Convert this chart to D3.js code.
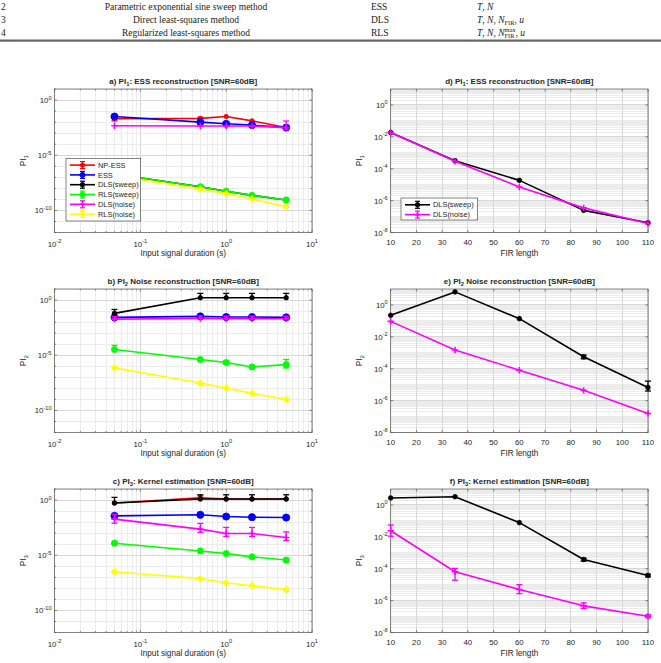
<!DOCTYPE html>
<html><head><meta charset="utf-8">
<script src="https://cdn.jsdelivr.net/npm/d3@7"></script>
<style>body{margin:0;background:#fff}svg{display:block}text{white-space:pre}</style>
</head><body>
<svg id="c" width="661" height="663"></svg>
<script>
// ---------------- DATA ----------------
const tableNums = ["2", "3", "4"];
const tableMethods = ["Parametric exponential sine sweep method", "Direct least-squares method", "Regularized least-squares method"];
const tableAbbr = ["ESS", "DLS", "RLS"];

const durations = [0.05, 0.5, 1, 2, 5];
const firLengths = [10, 35, 60, 85, 110];

const seriesNames = ["NP-ESS", "ESS", "DLS(sweep)", "RLS(sweep)", "DLS(noise)", "RLS(noise)"];
const seriesColors = ["#ff0000", "#0000ff", "#000000", "#00ff00", "#ff00ff", "#ffff00"];
const seriesMarkers = ["o", "o", "o", "o", "+", "d"];

const xTicksLog = [0.01, 0.1, 1, 10];
const yTicksLeft = [1e-10, 1e-5, 1];
const xTicksLin = [10, 20, 30, 40, 50, 60, 70, 80, 90, 100, 110];
const yTicksRight = [1e-8, 1e-6, 1e-4, 1e-2, 1];

// a) PI1 vs duration
const npEss_a = [0.020, 0.022, 0.032, 0.013, 0.0032];
const npEss_a_up = [0.030, 0.028, null, null, null];
const npEss_a_dn = [0.013, 0.017, null, null, null];
const ess_a = [0.032, 0.010, 0.0071, 0.0054, 0.0032];
const dlsSweep_a = [2.0e-7, 1.4e-8, 5.4e-9, 2.3e-9, 8.9e-10];
const rlsSweep_a = [2.0e-7, 1.4e-8, 5.4e-9, 2.3e-9, 8.9e-10];
const dlsNoise_a = [4.7e-3, 4.4e-3, 4.4e-3, 4.4e-3, 3.2e-3];
const dlsNoise_a_up = [null, null, null, null, 0.0126];
const dlsNoise_a_dn = [null, null, null, null, 0.0022];
const rlsNoise_a = [1.4e-7, 8.9e-9, 3.3e-9, 1.1e-9, 2.2e-10];

// b) PI2 vs duration
const dlsSweep_b = [0.062, 1.62, 1.62, 1.62, 1.62];
const dlsSweep_b_up = [0.14, 4.0, 4.0, 4.0, 4.0];
const ess_b = [0.027, 0.033, 0.029, 0.029, 0.027];
const dlsNoise_b = [0.0186, 0.0214, 0.020, 0.020, 0.020];
const dlsNoise_b_up = [0.032, 0.036, 0.034, 0.034, 0.034];
const rlsSweep_b = [3.3e-5, 4.1e-6, 2.2e-6, 8.7e-7, 1.4e-6];
const rlsSweep_b_up = [7.9e-5, 5.5e-6, 3.0e-6, null, 4.1e-6];
const rlsSweep_b_dn = [null, 3.2e-6, 1.6e-6, null, 7e-7];
const rlsNoise_b = [7.1e-7, 3.0e-8, 1.07e-8, 3.5e-9, 1.0e-9];

// c) PI3 vs duration
const npEss_c = [0.54, 1.58, 1.23, 1.23, 1.23];
const npEss_c_up = [null, 2.4, null, null, null];
const dlsSweep_c = [0.54, 1.23, 1.23, 1.23, 1.23];
const dlsSweep_c_up = [1.74, 3.0, 3.0, 3.0, 3.0];
const ess_c = [0.037, 0.046, 0.032, 0.028, 0.026];
const dlsNoise_c = [0.0186, 0.0023, 9.3e-4, 9.3e-4, 4.0e-4];
const dlsNoise_c_up = [0.052, 0.0076, 0.0033, 0.0033, 0.0013];
const dlsNoise_c_dn = [0.008, 0.0012, 5e-4, 5e-4, 2.2e-4];
const rlsSweep_c = [1.23e-4, 2.45e-5, 1.41e-5, 7.1e-6, 3.7e-6];
const rlsSweep_c_up = [null, null, null, null, 5.2e-6];
const rlsSweep_c_dn = [null, null, null, null, 2.6e-6];
const rlsNoise_c = [3.2e-7, 7.6e-8, 3.2e-8, 1.74e-8, 7.6e-9];

// d) PI1 vs FIR length
const dlsSweep_d = [0.0186, 3.2e-4, 1.86e-5, 2.45e-7, 4.1e-8];
const dlsNoise_d = [0.0186, 2.9e-4, 7.2e-6, 3.5e-7, 3.7e-8];

// e) PI2 vs FIR length
const dlsSweep_e = [0.224, 6.6, 0.138, 5.6e-4, 6.6e-6];
const dlsSweep_e_up = [null, null, null, 7.2e-4, 1.66e-5];
const dlsSweep_e_dn = [null, null, null, 4.2e-4, 4e-6];
const dlsNoise_e = [0.093, 1.48e-3, 8.1e-5, 4.4e-6, 1.55e-7];

// f) PI3 vs FIR length
const dlsSweep_f = [2.75, 3.3, 0.078, 3.8e-4, 3.8e-5];
const dlsSweep_f_up = [null, null, null, 4.6e-4, 4.5e-5];
const dlsSweep_f_dn = [null, null, null, 3.0e-4, 3.1e-5];
const dlsNoise_f = [0.024, 6.5e-5, 5.0e-6, 4.7e-7, 1.05e-7];
const dlsNoise_f_up = [0.055, 1.05e-4, 1.0e-5, 7.2e-7, 1.3e-7];
const dlsNoise_f_dn = [0.011, 1.9e-5, 2.7e-6, 3.2e-7, 0.85e-7];

// ---------------- DRAW ----------------
const svg = d3.select('#c');
const SANS = "'Liberation Sans', Arial, Helvetica, sans-serif";
const SERIF = "'Liberation Serif', 'Times New Roman', serif";
const TXT = "#262626";

// ---- table fragment ----
function richText(g, x, y, pieces, fs) {
  let cx = x, lastStart = x, lastW = 0;
  pieces.forEach(p => {
    const size = p.small ? fs * 0.68 : fs;
    const el = g.append('text')
      .attr('x', p.stack ? lastStart : cx)
      .attr('y', y + (p.dy || 0))
      .attr('xml:space', 'preserve')
      .style('font-family', SERIF).style('font-size', size + 'px')
      .style('font-style', p.i ? 'italic' : 'normal')
      .attr('fill', '#222').text(p.t);
    const w = el.node().getComputedTextLength();
    if (p.stack) { cx = lastStart + Math.max(lastW, w); }
    else { lastStart = cx; lastW = w; cx += w; }
  });
}
const tableParams = [
  [{t:"T",i:1},{t:", "},{t:"N",i:1}],
  [{t:"T",i:1},{t:", "},{t:"N",i:1},{t:", "},{t:"N",i:1},{t:"FIR",small:1,dy:2.5},{t:", "},{t:"u",i:1}],
  [{t:"T",i:1},{t:", "},{t:"N",i:1},{t:", "},{t:"N",i:1},{t:"FIR",small:1,dy:2.5},{t:"max",small:1,dy:-4,stack:1},{t:", "},{t:"u",i:1}]
];
const tg = svg.append('g');
const rowY = [9.5, 22.5, 35.5];
tableNums.forEach((n, i) => {
  tg.append('text').attr('x', 1).attr('y', rowY[i]).style('font-family', SERIF).style('font-size', '9.5px').attr('fill', '#222').text(n);
  tg.append('text').attr('x', 186).attr('y', rowY[i]).attr('text-anchor', 'middle').style('font-family', SERIF).style('font-size', '9.5px').attr('fill', '#222').text(tableMethods[i]);
  tg.append('text').attr('x', 371).attr('y', rowY[i]).style('font-family', SERIF).style('font-size', '9.5px').attr('fill', '#222').text(tableAbbr[i]);
  richText(tg, 477, rowY[i], tableParams[i], 9.5);
});
tg.append('rect').attr('x', 0).attr('y', 39.5).attr('width', 661).attr('height', 2.2).attr('fill', '#666');

// ---- helpers ----
function supText(sel, base, exp, fs) {
  sel.append('tspan').text(base);
  sel.append('tspan').attr('dy', -fs * 0.45).style('font-size', (fs * 0.72) + 'px').text(exp);
}
function subText(sel, base, sub, rest, fs) {
  sel.append('tspan').text(base);
  sel.append('tspan').attr('dy', fs * 0.3).style('font-size', (fs * 0.72) + 'px').text(sub);
  if (rest) sel.append('tspan').attr('dy', -fs * 0.3).text(rest);
}
function marker(g, type, cx, cy, r, color) {
  if (type === 'o') {
    g.append('circle').attr('cx', cx).attr('cy', cy).attr('r', r).attr('fill', color).attr('stroke', color).attr('stroke-width', 0.8);
  } else if (type === '+') {
    g.append('path').attr('d', `M${cx - r},${cy}H${cx + r}M${cx},${cy - r}V${cy + r}`).attr('stroke', color).attr('stroke-width', 1.6).attr('fill', 'none');
  } else if (type === 'd') {
    g.append('path').attr('d', `M${cx},${cy - r}L${cx + r},${cy}L${cx},${cy + r}L${cx - r},${cy}Z`).attr('fill', color).attr('stroke', color).attr('stroke-width', 0.8);
  }
}
const markerSizes = [2.2, 3.6, 2.3, 3.1, 3.2, 3.4];

const colX = [[54.5, 312], [390.7, 648]];
const rowTop = [89, 289, 489];
const PH = 143.5;

function drawPanel(p) {
  const [x0, x1] = colX[p.col];
  const y0 = rowTop[p.row], y1 = y0 + PH;
  const g = svg.append('g');
  const left = p.col === 0;
  const x = left ? d3.scaleLog().domain([0.01, 10]).range([x0, x1])
                 : d3.scaleLinear().domain([10, 110]).range([x0, x1]);
  const y = left ? d3.scaleLog().domain([1e-12, 10]).range([y1, y0])
                 : d3.scaleLog().domain([1e-8, 10]).range([y1, y0]);
  g.append('rect').attr('x', x0).attr('y', y0).attr('width', x1 - x0).attr('height', PH).attr('fill', '#fff');

  const xMinor = [], yMinor = [];
  if (left) {
    for (let e = -2; e < 1; e++) for (let k = 2; k <= 9; k++) xMinor.push(k * Math.pow(10, e));
    for (let e = -12; e <= 1; e++) if (!yTicksLeft.includes(Math.pow(10, e))) yMinor.push(Math.pow(10, e));
  } else {
    for (let e = -8; e < 1; e++) for (let k = 1; k <= 9; k++) {
      const v = k * Math.pow(10, e);
      if (k === 1 && yTicksRight.some(t => Math.abs(t - v) / v < 1e-6)) continue;
      yMinor.push(v);
    }
  }
  const xMajor = left ? xTicksLog : xTicksLin;
  const yMajor = left ? yTicksLeft : yTicksRight;
  const grid = g.append('g').attr('shape-rendering', 'crispEdges');
  xMinor.forEach(v => grid.append('line').attr('x1', x(v)).attr('x2', x(v)).attr('y1', y0).attr('y2', y1).attr('stroke', '#ececec').attr('stroke-width', 1));
  yMinor.forEach(v => grid.append('line').attr('y1', y(v)).attr('y2', y(v)).attr('x1', x0).attr('x2', x1).attr('stroke', '#ececec').attr('stroke-width', 1));
  xMajor.forEach(v => grid.append('line').attr('x1', x(v)).attr('x2', x(v)).attr('y1', y0).attr('y2', y1).attr('stroke', '#d8d8d8').attr('stroke-width', 1));
  yMajor.forEach(v => grid.append('line').attr('y1', y(v)).attr('y2', y(v)).attr('x1', x0).attr('x2', x1).attr('stroke', '#d8d8d8').attr('stroke-width', 1));

  const tk = g.append('g').attr('stroke', '#444').attr('stroke-width', 0.6);
  xMajor.forEach(v => { tk.append('line').attr('x1', x(v)).attr('x2', x(v)).attr('y1', y1).attr('y2', y1 - 2.6); tk.append('line').attr('x1', x(v)).attr('x2', x(v)).attr('y1', y0).attr('y2', y0 + 2.6); });
  yMajor.forEach(v => { tk.append('line').attr('y1', y(v)).attr('y2', y(v)).attr('x1', x0).attr('x2', x0 + 2.6); tk.append('line').attr('y1', y(v)).attr('y2', y(v)).attr('x1', x1).attr('x2', x1 - 2.6); });
  xMinor.forEach(v => { tk.append('line').attr('x1', x(v)).attr('x2', x(v)).attr('y1', y1).attr('y2', y1 - 1.5); tk.append('line').attr('x1', x(v)).attr('x2', x(v)).attr('y1', y0).attr('y2', y0 + 1.5); });
  (left ? yMinor : []).forEach(v => { tk.append('line').attr('y1', y(v)).attr('y2', y(v)).attr('x1', x0).attr('x2', x0 + 1.5); tk.append('line').attr('y1', y(v)).attr('y2', y(v)).attr('x1', x1).attr('x2', x1 - 1.5); });

  g.append('rect').attr('x', x0).attr('y', y0).attr('width', x1 - x0).attr('height', PH).attr('fill', 'none').attr('stroke', '#555').attr('stroke-width', 0.7);

  const fs = 7.8;
  if (left) {
    xMajor.forEach(v => {
      const t = g.append('text').attr('x', x(v)).attr('y', y1 + 14).attr('text-anchor', 'middle').style('font-family', SANS).style('font-size', fs + 'px').attr('fill', TXT);
      supText(t, '10', String(Math.round(Math.log10(v))), fs);
    });
  } else {
    xMajor.forEach(v => g.append('text').attr('x', x(v)).attr('y', y1 + 12.5).attr('text-anchor', 'middle').style('font-family', SANS).style('font-size', fs + 'px').attr('fill', TXT).text(v));
  }
  yMajor.forEach(v => {
    const t = g.append('text').attr('x', x0 - 3).attr('y', y(v) + 3).attr('text-anchor', 'end').style('font-family', SANS).style('font-size', fs + 'px').attr('fill', TXT);
    supText(t, '10', String(Math.round(Math.log10(v))), fs);
  });

  g.append('text').attr('x', (x0 + x1) / 2).attr('y', y1 + 23.5).attr('text-anchor', 'middle').style('font-family', SANS).style('font-size', '8.2px').attr('fill', TXT).text(left ? 'Input signal duration (s)' : 'FIR length');
  const yl = g.append('text').attr('transform', `translate(${x0 - 29},${(y0 + y1) / 2}) rotate(-90)`).attr('text-anchor', 'middle').style('font-family', SANS).style('font-size', '8.2px').attr('fill', TXT);
  subText(yl, 'PI', p.ysub, null, 8.2);

  const tt = g.append('text').attr('x', (x0 + x1) / 2).attr('y', y0 - 5.5).attr('text-anchor', 'middle').style('font-family', SANS).style('font-size', '8px').style('font-weight', 'bold').attr('fill', TXT);
  subText(tt, p.title[0], p.title[1], p.title[2], 8);

  const xs = left ? durations : firLengths;
  const sg = g.append('g');
  p.series.forEach(s => {
    const col = seriesColors[s.k];
    const pts = xs.map((xv, i) => ({x: xv, y: s.y[i], up: s.up ? s.up[i] : null, dn: s.dn ? s.dn[i] : null}));
    sg.append('path').datum(pts).attr('d', d3.line().x(d => x(d.x)).y(d => y(d.y))).attr('fill', 'none').attr('stroke', col).attr('stroke-width', 1.6).attr('stroke-linejoin', 'round');
    pts.forEach(d => {
      const cx = x(d.x);
      const yt = d.up != null ? y(d.up) : y(d.y), yb = d.dn != null ? y(d.dn) : y(d.y);
      if (d.up != null || d.dn != null) {
        sg.append('line').attr('x1', cx).attr('x2', cx).attr('y1', yt).attr('y2', yb).attr('stroke', col).attr('stroke-width', 1.3);
        if (d.up != null) sg.append('line').attr('x1', cx - 3).attr('x2', cx + 3).attr('y1', yt).attr('y2', yt).attr('stroke', col).attr('stroke-width', 1.3);
        if (d.dn != null) sg.append('line').attr('x1', cx - 3).attr('x2', cx + 3).attr('y1', yb).attr('y2', yb).attr('stroke', col).attr('stroke-width', 1.3);
      }
      marker(sg, seriesMarkers[s.k], cx, y(d.y), markerSizes[s.k], col);
    });
  });

  if (p.legend) {
    const L = p.legend;
    const lg = g.append('g');
    lg.append('rect').attr('x', L.x).attr('y', L.y).attr('width', L.w).attr('height', L.h).attr('fill', '#fff').attr('stroke', '#333').attr('stroke-width', 0.6);
    L.keys.forEach((k, i) => {
      const ly = L.y + 6.8 + i * 9.8;
      const col = seriesColors[k];
      lg.append('line').attr('x1', L.x + 4).attr('x2', L.x + 29).attr('y1', ly).attr('y2', ly).attr('stroke', col).attr('stroke-width', 1.6);
      const mx = L.x + 16.5;
      lg.append('line').attr('x1', mx).attr('x2', mx).attr('y1', ly - 3.5).attr('y2', ly + 3.5).attr('stroke', col).attr('stroke-width', 1.2);
      lg.append('line').attr('x1', mx - 2.5).attr('x2', mx + 2.5).attr('y1', ly - 3.5).attr('y2', ly - 3.5).attr('stroke', col).attr('stroke-width', 1.2);
      lg.append('line').attr('x1', mx - 2.5).attr('x2', mx + 2.5).attr('y1', ly + 3.5).attr('y2', ly + 3.5).attr('stroke', col).attr('stroke-width', 1.2);
      marker(lg, seriesMarkers[k], mx, ly, Math.min(markerSizes[k], 2.6), col);
      lg.append('text').attr('x', L.x + 32).attr('y', ly + 2.6).style('font-family', SANS).style('font-size', '7.4px').attr('fill', TXT).text(seriesNames[k]);
    });
  }
}

const panels = [
  {col: 0, row: 0, ysub: '1', title: ['a) PI', '1', ': ESS reconstruction [SNR=60dB]'],
   series: [
     {k: 0, y: npEss_a, up: npEss_a_up, dn: npEss_a_dn},
     {k: 1, y: ess_a},
     {k: 2, y: dlsSweep_a},
     {k: 3, y: rlsSweep_a},
     {k: 4, y: dlsNoise_a, up: dlsNoise_a_up, dn: dlsNoise_a_dn},
     {k: 5, y: rlsNoise_a}],
   legend: {x: 66, y: 158.3, w: 74.7, h: 62.7, keys: [0, 1, 2, 3, 4, 5]}},
  {col: 0, row: 1, ysub: '2', title: ['b) PI', '2', ' Noise reconstruction [SNR=60dB]'],
   series: [
     {k: 1, y: ess_b},
     {k: 2, y: dlsSweep_b, up: dlsSweep_b_up},
     {k: 3, y: rlsSweep_b, up: rlsSweep_b_up, dn: rlsSweep_b_dn},
     {k: 4, y: dlsNoise_b, up: dlsNoise_b_up},
     {k: 5, y: rlsNoise_b}]},
  {col: 0, row: 2, ysub: '3', title: ['c) PI', '3', ': Kernel estimation [SNR=60dB]'],
   series: [
     {k: 0, y: npEss_c, up: npEss_c_up},
     {k: 1, y: ess_c},
     {k: 2, y: dlsSweep_c, up: dlsSweep_c_up},
     {k: 3, y: rlsSweep_c, up: rlsSweep_c_up, dn: rlsSweep_c_dn},
     {k: 4, y: dlsNoise_c, up: dlsNoise_c_up, dn: dlsNoise_c_dn},
     {k: 5, y: rlsNoise_c}]},
  {col: 1, row: 0, ysub: '1', title: ['d) PI', '1', ': ESS reconstruction [SNR=60dB]'],
   series: [{k: 2, y: dlsSweep_d}, {k: 4, y: dlsNoise_d}],
   legend: {x: 401, y: 198, w: 76.7, h: 22, keys: [2, 4]}},
  {col: 1, row: 1, ysub: '2', title: ['e) PI', '2', ' Noise reconstruction [SNR=60dB]'],
   series: [{k: 2, y: dlsSweep_e, up: dlsSweep_e_up, dn: dlsSweep_e_dn}, {k: 4, y: dlsNoise_e}]},
  {col: 1, row: 2, ysub: '3', title: ['f) PI', '3', ': Kernel estimation [SNR=60dB]'],
   series: [{k: 2, y: dlsSweep_f, up: dlsSweep_f_up, dn: dlsSweep_f_dn}, {k: 4, y: dlsNoise_f, up: dlsNoise_f_up, dn: dlsNoise_f_dn}]}
];
panels.forEach(drawPanel);
</script>
</body></html>
